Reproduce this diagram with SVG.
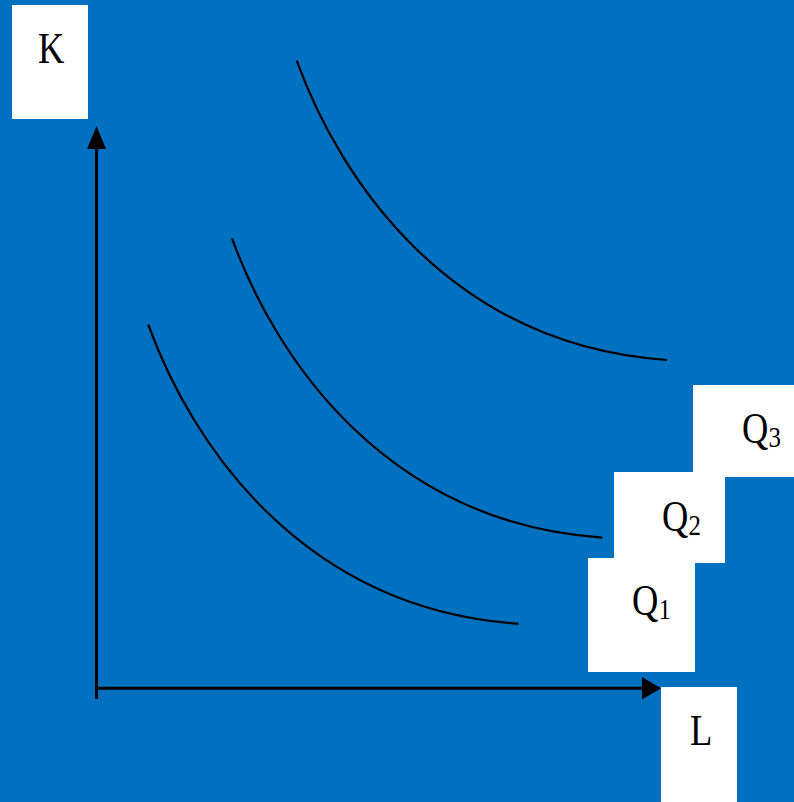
<svg xmlns="http://www.w3.org/2000/svg" width="794" height="802" viewBox="0 0 794 802">
  <style>
    .box { fill: #ffffff; }
    .lbl { font-family: "Liberation Serif", "Times New Roman", serif; font-size: 44px; fill: #000000; }
    .sub { font-size: 30px; }
    .curve { fill: none; stroke: #000000; stroke-width: 2.2; }
    .axis { stroke: #000000; stroke-width: 3; fill: none; }
  </style>
  <defs>
    <path id="iso" d="M296.7,60.7 C340,180 450,345 667,360"/>
  </defs>
  <rect width="794" height="802" fill="#0070C0"/>

  <g id="connectors">
    <line class="axis" x1="96.5" y1="699" x2="96.5" y2="145"/>
    <polygon points="96.5,126 87,149 106,149" fill="#000"/>
    <line class="axis" x1="95" y1="688.3" x2="643" y2="688.3"/>
    <polygon points="661,688.3 642,677 642,699.6" fill="#000"/>
  </g>

  <g id="curves">
    <use href="#iso" class="curve" transform="translate(-148.5,263.8)"/>
    <use href="#iso" class="curve" transform="translate(-64.7,177.6)"/>
    <use href="#iso" class="curve"/>
  </g>

  <g id="node-K">
    <rect class="box" x="12" y="5" width="76" height="114"/>
    <g transform="translate(38,63) scale(0.83,1)"><text class="lbl" x="0" y="0">K</text></g>
  </g>
  <g id="node-Q1">
    <rect class="box" x="588" y="558" width="107" height="114"/>
    <g transform="translate(632,615) scale(0.83,1)"><text class="lbl" x="0" y="0">Q<tspan class="sub" dy="4">1</tspan></text></g>
  </g>
  <g id="node-Q2">
    <rect class="box" x="614" y="472" width="111" height="91"/>
    <g transform="translate(662,531) scale(0.83,1)"><text class="lbl" x="0" y="0">Q<tspan class="sub" dy="4">2</tspan></text></g>
  </g>
  <g id="node-Q3">
    <rect class="box" x="693" y="385" width="110" height="92"/>
    <g transform="translate(742,443) scale(0.83,1)"><text class="lbl" x="0" y="0">Q<tspan class="sub" dy="4">3</tspan></text></g>
  </g>
  <g id="node-L">
    <rect class="box" x="661" y="687" width="76" height="120"/>
    <g transform="translate(690,745) scale(0.83,1)"><text class="lbl" x="0" y="0">L</text></g>
  </g>
</svg>
